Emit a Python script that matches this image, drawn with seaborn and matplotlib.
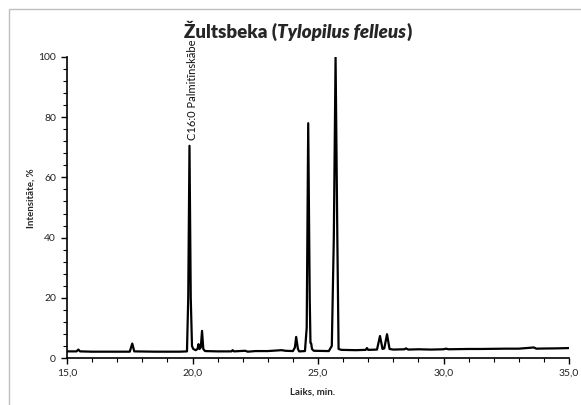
import matplotlib
matplotlib.use("Agg")
import matplotlib.pyplot as plt
import matplotlib.ticker as mticker
from matplotlib.patches import Rectangle
import seaborn as sns
import pandas as pd

# Retention time (min) and relative intensity (%)
time_min = [15.0, 15.38, 15.45, 15.52, 16.0, 17.0, 17.5, 17.6, 17.68, 18.5, 19.0, 19.5,
            19.78, 19.83, 19.88, 19.93, 19.98, 20.03, 20.13, 20.2, 20.24, 20.28, 20.33, 20.38,
            20.43, 20.5, 21.0, 21.55, 21.6, 21.65, 22.1, 22.2, 22.5, 23.0, 23.55, 23.7, 24.0,
            24.08, 24.13, 24.2, 24.25, 24.48, 24.55, 24.61, 24.67, 24.70, 24.73, 24.76, 24.83,
            25.43, 25.55, 25.63, 25.70, 25.77, 25.82, 25.93, 26.5, 26.9, 26.95, 27.0, 27.35,
            27.47, 27.57, 27.64, 27.75, 27.85, 28.0, 28.45, 28.5, 28.6, 29.0, 29.5, 30.0,
            30.1, 30.2, 31.0, 31.5, 32.0, 32.5, 33.0, 33.6, 33.7, 34.0, 34.5, 35.0]
intensity = [2.2, 2.2, 2.8, 2.2, 2.1, 2.1, 2.1, 4.8, 2.2, 2.1, 2.1, 2.1,
             2.2, 20.0, 70.5, 20.0, 4.0, 3.0, 2.6, 3.0, 4.6, 3.0, 3.5, 9.0,
             3.0, 2.3, 2.2, 2.2, 2.6, 2.2, 2.4, 2.1, 2.3, 2.3, 2.6, 2.4, 2.3,
             3.5, 7.0, 3.0, 2.2, 2.3, 10.0, 78.0, 20.0, 5.0, 4.8, 3.0, 2.4,
             2.3, 4.0, 40.0, 100.0, 40.0, 3.0, 2.7, 2.6, 2.7, 3.3, 2.7, 2.8,
             7.3, 3.0, 3.2, 7.9, 3.0, 2.8, 2.9, 3.2, 2.8, 2.9, 2.8, 2.9,
             3.1, 2.9, 3.0, 3.0, 3.05, 3.1, 3.1, 3.5, 3.1, 3.15, 3.2, 3.3]

x_ticks = [15, 20, 25, 30, 35]
x_tick_labels = ["15,0", "20,0", "25,0", "30,0", "35,0"]
y_ticks = [0, 20, 40, 60, 80, 100]
y_tick_labels = ["0", "20", "40", "60", "80", "100"]

title_main = "Žultsbeka ("
title_species = "Tylopilus felleus"
title_end = ")"
peak_label = "C16:0 Palmitīnskābe"
peak_time = 19.88
peak_height = 70.5
x_label = "Laiks, min."
y_label = "Intensitāte, %"

sns.set_theme(style="ticks")
plt.rcParams['font.family'] = ['Lato', 'DejaVu Sans']

df = pd.DataFrame({"t": time_min, "i": intensity})

fig = plt.figure(figsize=(5.81, 4.05), dpi=100)
ax = fig.add_axes([67/581, 1 - 358/405, (569 - 67)/581, (358 - 57)/405])

sns.lineplot(data=df, x="t", y="i", sort=False, color="black", linewidth=1.6, ax=ax)

ax.set_xlim(15, 35)
ax.set_ylim(0, 100)
ax.set_xticks(x_ticks)
ax.set_xticklabels(x_tick_labels, fontsize=7.5)
ax.set_yticks(y_ticks)
ax.set_yticklabels(y_tick_labels, fontsize=7.5)
ax.xaxis.set_minor_locator(mticker.MultipleLocator(1))
ax.yaxis.set_minor_locator(mticker.MultipleLocator(4))
ax.tick_params(which="major", length=4, width=1, color="black", pad=4, labelcolor="#222222")
ax.tick_params(which="minor", length=3, width=0.8, color="black")
for s in ["top", "right"]:
    ax.spines[s].set_visible(False)
for s in ["left", "bottom"]:
    ax.spines[s].set_linewidth(1.2)
    ax.spines[s].set_color("black")

ax.set_xlabel(x_label, fontsize=7, fontweight="bold")
ax.set_ylabel(y_label, fontsize=7, fontweight="bold")
ax.xaxis.set_label_coords(0.49, -0.1)
ax.yaxis.set_label_coords(-0.062, 0.53)

ax.annotate(peak_label, xy=(peak_time, peak_height), xytext=(2.5, 4),
            textcoords="offset points", rotation=90, ha="center", va="bottom",
            fontsize=8, color="#111111")

# Title made of bold + bold italic pieces
ty = 1 - 38/405
tfs = 13.5
t1 = fig.text(0, ty, title_main, fontsize=tfs, fontweight="heavy", va="baseline", ha="left")
fig.canvas.draw()
r = fig.canvas.get_renderer()
b1 = t1.get_window_extent(r)
t2 = fig.text(b1.x1 / fig.bbox.width, ty, title_species, fontsize=tfs, fontweight="heavy",
              fontstyle="italic", va="baseline", ha="left")
b2 = t2.get_window_extent(r)
t3 = fig.text(b2.x1 / fig.bbox.width, ty, title_end, fontsize=tfs, fontweight="heavy",
              va="baseline", ha="left")
b3 = t3.get_window_extent(r)
total = b3.x1 - b1.x0
center = 298
shift = (center - total / 2) / fig.bbox.width
for t in (t1, t2, t3):
    x, y = t.get_position()
    t.set_position((x + shift, y))

fig.patches.append(Rectangle((9/581, -0.1), 1.2, 1.1 - 9/405, transform=fig.transFigure,
                             fill=False, edgecolor="#bfbfbf", linewidth=1))

fig.savefig("out.png", dpi=100)
